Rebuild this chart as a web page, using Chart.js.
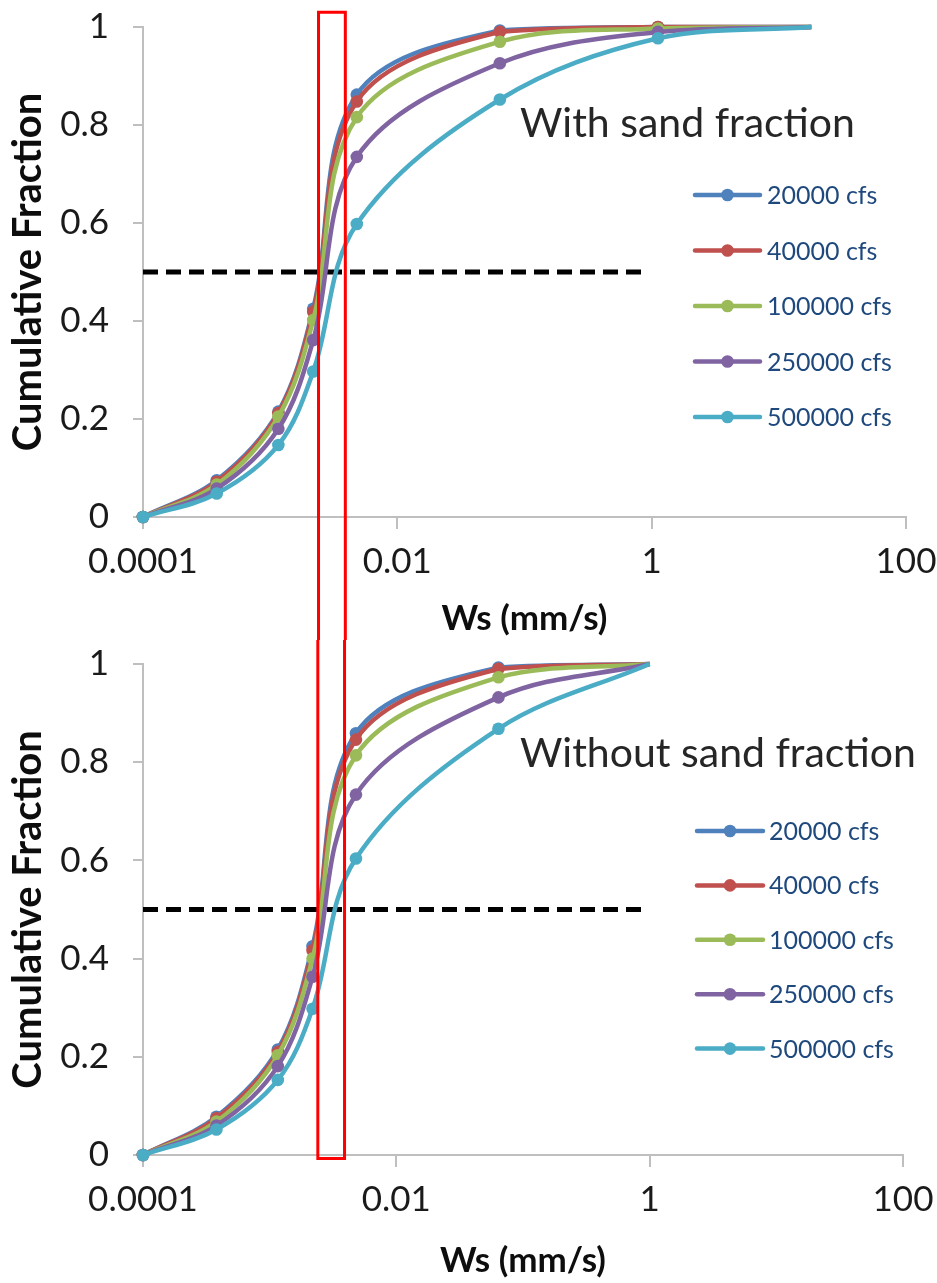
<!DOCTYPE html>
<html><head><meta charset="utf-8">
<script src="https://cdn.jsdelivr.net/npm/chart.js@4.4.1/dist/chart.umd.min.js"></script>
<style>
html,body{margin:0;padding:0;background:#fff;}
#wrap{position:relative;width:937px;height:1283px;overflow:hidden;}
#c1{position:absolute;left:0;top:0;}
#c2{position:absolute;left:0;top:640px;}
</style></head><body>
<div id="wrap"><canvas id="c1" width="937" height="640"></canvas><canvas id="c2" width="937" height="643"></canvas></div>
<script>
// ---- data ----
const seriesLabels = ['20000 cfs', '40000 cfs', '100000 cfs', '250000 cfs', '500000 cfs'];
const seriesColors = ['#4F81BD', '#C0504D', '#9BBB59', '#8064A2', '#4BACC6'];

// Top panel: with sand fraction
const xTop = [0.0001, 0.00038, 0.00116, 0.00218, 0.0048, 0.064, 1.12, 18];
const top20000  = [0, 0.075, 0.215, 0.425, 0.862, 0.993, 1.0,   1.0];
const top40000  = [0, 0.072, 0.212, 0.419, 0.848, 0.990, 1.0,   1.0];
const top100000 = [0, 0.066, 0.205, 0.402, 0.816, 0.970, 0.997, 1.0];
const top250000 = [0, 0.058, 0.180, 0.361, 0.735, 0.926, 0.990, 1.0];
const top500000 = [0, 0.048, 0.147, 0.297, 0.598, 0.852, 0.977, 1.0];
const markedPointsTop = 7;

// Bottom panel: without sand fraction
const xBottom = [0.0001, 0.00038, 0.00116, 0.00218, 0.0048, 0.064, 1.0];
const bot20000  = [0, 0.078, 0.215, 0.425, 0.859, 0.993, 1.0];
const bot40000  = [0, 0.075, 0.210, 0.417, 0.846, 0.990, 1.0];
const bot100000 = [0, 0.068, 0.203, 0.400, 0.814, 0.973, 1.0];
const bot250000 = [0, 0.060, 0.181, 0.363, 0.734, 0.932, 1.0];
const bot500000 = [0, 0.052, 0.153, 0.298, 0.604, 0.868, 1.0];
const markedPointsBottom = 6;

// Reference (median) line and highlight box
const refLineX = [0.0001, 0.87];
const refLineY = [0.5, 0.5];
const boxX = [0.0024, 0.0039];
const boxTopY = 1.03;      // in top panel
const boxBottomY = -0.007; // in bottom panel

// Axes
const xTickValues = [0.0001, 0.01, 1, 100];
const xTickLabels = ['0.0001', '0.01', '1', '100'];
const yTickLabels = ['0', '0.2', '0.4', '0.6', '0.8', '1'];
const xTitle = 'Ws (mm/s)';
const yTitle = 'Cumulative Fraction';
const panelTitles = ['With sand fraction', 'Without sand fraction'];

// ---- helpers ----
const pts = (xs, ys) => xs.map((x, i) => ({x: x, y: ys[i]}));

function makeDatasets(xs, seriesArr, marked) {
  const ds = seriesArr.map((ys, i) => ({
    label: seriesLabels[i],
    data: pts(xs, ys),
    borderColor: seriesColors[i],
    backgroundColor: seriesColors[i],
    borderWidth: 4.5,
    pointRadius: ctx => ctx.dataIndex < marked ? 6.3 : 0,
    pointHoverRadius: 0,
    pointBorderWidth: 0,
    tension: 0.35,
    clip: false,
    order: 4 - i
  }));
  ds.push({
    label: 'ref',
    data: pts(refLineX, refLineY),
    borderColor: '#000000',
    borderWidth: 5,
    borderDash: [15, 8],
    pointRadius: 0,
    tension: 0,
    clip: false,
    order: 10
  });
  return ds;
}

const overlayPlugin = {
  id: 'overlay',
  afterDraw(chart, args, o) {
    const ctx = chart.ctx;
    const xs = chart.scales.x, ys = chart.scales.y;
    ctx.save();
    // panel title
    ctx.font = '41px Lato, "Open Sans", sans-serif';
    ctx.fillStyle = '#262626';
    ctx.textBaseline = 'alphabetic';
    ctx.textAlign = 'left';
    ctx.fillText(o.title, o.titleX, o.titleBaseline);
    // legend
    ctx.font = '25px Lato, "Open Sans", sans-serif';
    ctx.textBaseline = 'middle';
    for (let i = 0; i < seriesLabels.length; i++) {
      const y = o.legY0 + i * o.legDy;
      ctx.strokeStyle = seriesColors[i];
      ctx.lineWidth = 4.5;
      ctx.lineCap = 'round';
      ctx.beginPath(); ctx.moveTo(o.legX0, y); ctx.lineTo(o.legX1, y); ctx.stroke();
      ctx.fillStyle = seriesColors[i];
      ctx.beginPath(); ctx.arc((o.legX0 + o.legX1) / 2, y, 6.3, 0, Math.PI * 2); ctx.fill();
      ctx.fillStyle = '#1F497D';
      ctx.fillText(seriesLabels[i], o.legTextX, y + 1);
    }
    // red highlight box
    const xl = xs.getPixelForValue(boxX[0]);
    const xr = xs.getPixelForValue(boxX[1]);
    ctx.strokeStyle = '#FF0000';
    ctx.lineWidth = 3;
    ctx.lineCap = 'butt';
    ctx.beginPath();
    if (o.boxPart === 'top') {
      const yt = ys.getPixelForValue(boxTopY);
      ctx.moveTo(xl, chart.height + 2); ctx.lineTo(xl, yt); ctx.lineTo(xr, yt); ctx.lineTo(xr, chart.height + 2);
    } else {
      const yb = ys.getPixelForValue(boxBottomY);
      ctx.moveTo(xl, -2); ctx.lineTo(xl, yb); ctx.lineTo(xr, yb); ctx.lineTo(xr, -2);
    }
    ctx.stroke();
    ctx.restore();
  }
};

function makeChart(canvasId, datasets, cfg) {
  return new Chart(document.getElementById(canvasId), {
    type: 'line',
    data: { datasets: datasets },
    plugins: [overlayPlugin],
    options: {
      responsive: false,
      animation: false,
      events: [],
      layout: { autoPadding: false, padding: { top: cfg.padTop, right: cfg.padRight, left: 0, bottom: 0 } },
      plugins: {
        legend: { display: false },
        tooltip: { enabled: false },
        overlay: cfg.overlay
      },
      scales: {
        x: {
          type: 'logarithmic',
          min: 0.0001, max: 100,
          afterBuildTicks: s => { s.ticks = xTickValues.map(v => ({value: v})); },
          afterFit: s => { s.height = cfg.xHeight; s.paddingLeft = 0; s.paddingRight = 0; },
          ticks: {
            autoSkip: false, maxRotation: 0, minRotation: 0,
            padding: 12,
            color: '#1a1a1a',
            font: { family: 'Lato, "Open Sans", sans-serif', size: 35 },
            callback: (v) => { const k = xTickValues.findIndex(t => Math.abs(Math.log10(t) - Math.log10(v)) < 1e-6); return k >= 0 ? xTickLabels[k] : ''; }
          },
          grid: { drawOnChartArea: false, drawTicks: true, tickLength: 12, color: '#BFBFBF', lineWidth: 2 },
          border: { display: true, color: '#BFBFBF', width: 2 },
          title: {
            display: true, text: xTitle, color: '#0d0d0d',
            font: { family: 'Lato, "Open Sans", sans-serif', size: 35, weight: 'bold', lineHeight: 1.2 },
            padding: { top: 0, bottom: cfg.xTitlePadBottom }
          }
        },
        y: {
          type: 'linear',
          min: 0, max: 1,
          afterFit: s => { s.width = 143; s.paddingTop = 0; s.paddingBottom = 0; },
          ticks: {
            stepSize: 0.2,
            padding: 24,
            color: '#1a1a1a',
            font: { family: 'Lato, "Open Sans", sans-serif', size: 35 },
            callback: (v, i) => yTickLabels[i]
          },
          grid: { drawOnChartArea: false, drawTicks: true, tickLength: 10, color: '#BFBFBF', lineWidth: 2 },
          border: { display: true, color: '#BFBFBF', width: 2 },
          title: {
            display: true, text: yTitle, color: '#0d0d0d',
            font: { family: 'Lato, "Open Sans", sans-serif', size: 40, weight: 'bold', lineHeight: 1.2 },
            padding: { top: 4, bottom: 0 }
          }
        }
      }
    }
  });
}

makeChart('c1', makeDatasets(xTop, [top20000, top40000, top100000, top250000, top500000], markedPointsTop), {
  padTop: 27, padRight: 31, xHeight: 123, xTitlePadBottom: 0,
  overlay: { title: panelTitles[0], titleX: 520, titleBaseline: 137, legX0: 695, legX1: 760, legTextX: 767, legY0: 195, legDy: 55.5, boxPart: 'top' }
});
makeChart('c2', makeDatasets(xBottom, [bot20000, bot40000, bot100000, bot250000, bot500000], markedPointsBottom), {
  padTop: 24, padRight: 34, xHeight: 128, xTitlePadBottom: 1,
  overlay: { title: panelTitles[1], titleX: 520, titleBaseline: 127, legX0: 697, legX1: 763, legTextX: 769, legY0: 191, legDy: 54.4, boxPart: 'bottom' }
});
</script>
</body></html>
